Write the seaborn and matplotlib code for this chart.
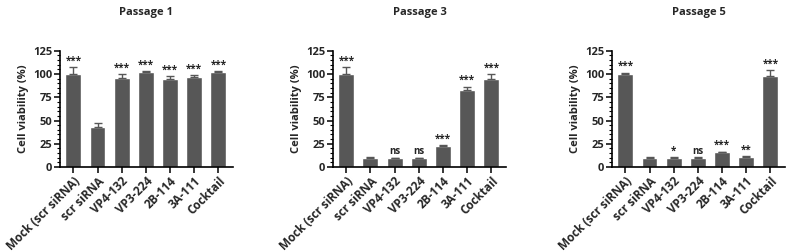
import numpy as np
import pandas as pd
import matplotlib
matplotlib.use("Agg")
import matplotlib.pyplot as plt
from matplotlib.ticker import MultipleLocator
import seaborn as sns

categories = ["Mock (scr siRNA)", "scr siRNA", "VP4-132", "VP3-224", "2B-114", "3A-111", "Cocktail"]
titles = ["Passage 1", "Passage 3", "Passage 5"]

p1_values = [100, 43.5, 96, 102, 94.5, 97, 102]
p1_errors = [7.5, 4, 3.5, 1, 3, 2, 1]
p1_sig = ["***", "", "***", "***", "***", "***", "***"]

p3_values = [100, 10, 9.8, 9.8, 22.5, 82.5, 94.5]
p3_errors = [7, 0.4, 0.3, 0.4, 1, 4, 5]
p3_sig = ["***", "", "ns", "ns", "***", "***", "***"]

p5_values = [100, 10, 10, 10, 16, 11, 98]
p5_errors = [1.5, 0.3, 0.4, 0.4, 0.6, 0.5, 6.5]
p5_sig = ["***", "", "*", "ns", "***", "**", "***"]

yticks = [0, 25, 50, 75, 100, 125]

sns.set_theme(style="ticks")
plt.rcParams['font.family'] = ['Open Sans', 'DejaVu Sans']

fig = plt.figure(figsize=(7.93, 2.52), dpi=100)
lefts = [0.0757, 0.4199, 0.7718]
width = 0.218
bottom = 0.337
height = 0.462

panels = [(p1_values, p1_errors, p1_sig), (p3_values, p3_errors, p3_sig), (p5_values, p5_errors, p5_sig)]
bar_color = "#575757"

for i, (vals, errs, sig) in enumerate(panels):
    ax = fig.add_axes([lefts[i], bottom, width, height])
    df = pd.DataFrame({"cat": categories, "val": vals})
    sns.barplot(data=df, x="cat", y="val", color=bar_color, saturation=1, width=0.66, errorbar=None, ax=ax)
    xs = np.arange(len(categories))
    ax.errorbar(xs, vals, yerr=[np.zeros(len(errs)), errs], fmt="none", ecolor=bar_color,
                elinewidth=1.0, capsize=3, capthick=1.0)
    for x, v, e, s in zip(xs, vals, errs, sig):
        if s:
            ax.text(x, v + e + 0.5, s, ha="center", va="bottom", fontsize=7,
                    fontweight="bold", color="#222222")
    ax.set_xlim(-0.55, 6.6)
    ax.set_ylim(0, 125)
    ax.set_yticks(yticks)
    ax.yaxis.set_minor_locator(MultipleLocator(5))
    ax.set_xticks(xs)
    ax.set_xticklabels(categories, rotation=45, ha="right", rotation_mode="anchor",
                       fontsize=8.5, fontweight="bold")
    for lbl in ax.get_yticklabels():
        lbl.set_fontweight("bold")
        lbl.set_fontsize(8)
    ax.set_xlabel("")
    ax.set_ylabel("Cell viability (%)", fontsize=8, fontweight="bold", labelpad=3)
    ax.set_title(titles[i], fontsize=8, fontweight="bold", pad=26)
    sns.despine(ax=ax)
    for sp in ["left", "bottom"]:
        ax.spines[sp].set_linewidth(1.2)
        ax.spines[sp].set_color("black")
    ax.tick_params(axis="both", which="major", length=4, width=1.1, color="black", pad=1.5)
    ax.tick_params(axis="y", which="minor", length=2, width=0.8, color="black")
    ax.tick_params(axis="x", which="minor", length=0)

fig.savefig("out.png", dpi=100, facecolor="white")
